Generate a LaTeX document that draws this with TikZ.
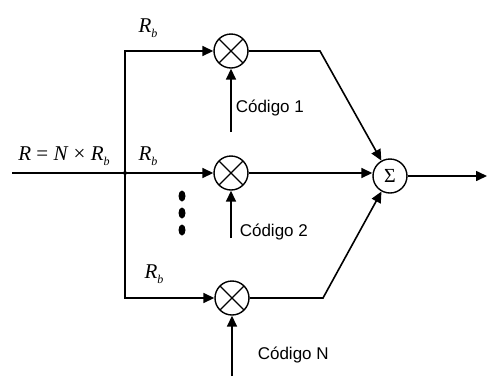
\documentclass[tikz,border=0pt]{standalone}
\usepackage{fontspec}
\setmainfont{Liberation Serif}
\newfontfamily\arialf{Liberation Sans}
\usetikzlibrary{arrows.meta}
\newcommand{\rbsym}{\textit{R}\raisebox{-4.5pt}{\fontsize{12}{13}\selectfont\itshape b}}
\begin{document}
\begin{tikzpicture}[x=1pt,y=-1pt, line width=1.6pt,
  >={Triangle[length=11pt,width=10pt]},
  mult/.style={circle, draw, line width=1.4pt, minimum size=34pt, inner sep=0pt,
    path picture={\draw[line width=1.3pt] (path picture bounding box.north east) -- (path picture bounding box.south west)
      (path picture bounding box.north west) -- (path picture bounding box.south east);}},
  sumnode/.style={circle, draw, line width=1.4pt, minimum size=34pt, inner sep=0pt, font=\fontsize{20}{22}\selectfont},
  code/.style={anchor=west, inner sep=0pt, font=\arialf\fontsize{17}{19}\selectfont},
  rate/.style={inner sep=0pt, font=\fontsize{21}{23}\selectfont}]
\useasboundingbox (0,0) rectangle (488,376);
\node[mult] (m1) at (231,51) {};
\node[mult] (m2) at (231,173) {};
\node[mult] (m3) at (232,298) {};
\node[sumnode] (s) at (390,176) {Σ};
\coordinate (in) at (12,173);
\coordinate (j) at (125,173);
\coordinate (k1) at (320,51);
\coordinate (k3) at (323,298);
\coordinate (out) at (487,176);
\coordinate (c1) at (231,132);
\coordinate (c2) at (231,238);
\coordinate (c3) at (232,376);
\fill (j) circle (2pt);
\draw (in) -- (j);
\draw[->] (j) -- (m2);
\draw[->] (j) |- (m1.west);
\draw[->] (j) |- (m3.west);
\draw[->] (m1) -- (k1) -- (s);
\draw[->] (m3) -- (k3) -- (s);
\draw[->] (m2) -- (m2 -| s.west);
\draw[->] (s) -- (out);
\draw[->] (c1) -- (m1);
\draw[->] (c2) -- (m2);
\draw[->] (c3) -- (m3);
\node[code] (l1) at (235,108) {Código 1};
\node[code] (l2) at (239,232) {Código 2};
\node[code] (l3) at (257,355) {Código N};
\node[rate] (r1) at (148,28) {\rbsym};
\node[rate] (r2) at (148,156) {\rbsym};
\node[rate] (r3) at (154,274) {\rbsym};
\node[rate] (rin) at (64,156) {\textit{R} = \textit{N} × \rbsym};
\fill (182,196) ellipse (3.5pt and 5.5pt);
\fill (182,213) ellipse (3.5pt and 5.5pt);
\fill (182,230) ellipse (3.5pt and 5.5pt);
\end{tikzpicture}
\end{document}
